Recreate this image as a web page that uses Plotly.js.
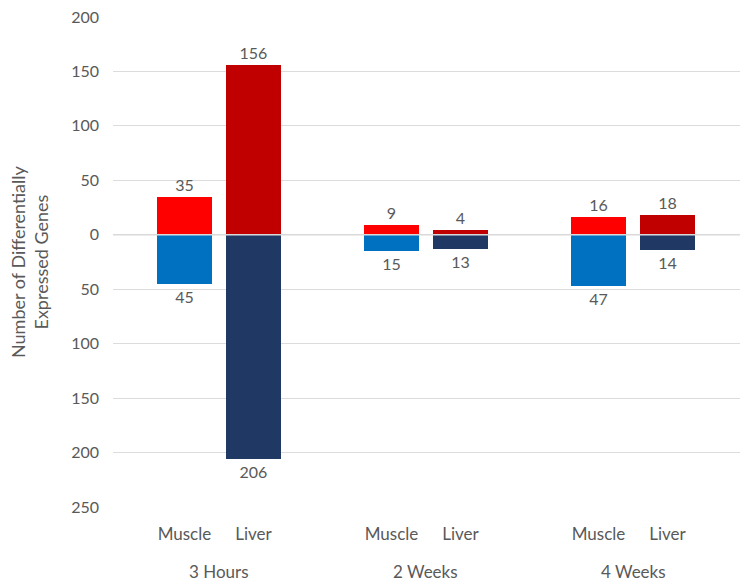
<!DOCTYPE html>
<html>
<head>
<meta charset="utf-8">
<script src="https://cdn.plot.ly/plotly-3.0.1.min.js"></script>
<style>html,body{margin:0;padding:0;background:#fff;}#chart{width:749px;height:588px;}</style>
</head>
<body>
<div id="chart"></div>
<script>
// Data
const groups = ["3 Hours", "2 Weeks", "4 Weeks"];
const tissues = ["Muscle", "Liver"];
const muscleUp = [35, 9, 16];
const muscleDown = [45, 15, 47];
const liverUp = [156, 4, 18];
const liverDown = [206, 13, 14];
const yTickVals = [-250, -200, -150, -100, -50, 0, 50, 100, 150, 200];

// positions (layout): each group holds two adjacent slots, one empty slot between groups
const musclePos = groups.map((g, i) => i * 3);
const liverPos = groups.map((g, i) => i * 3 + 1);
const groupCenters = groups.map((g, i) => i * 3 + 0.5);

const FAM = "Lato, 'Open Sans', sans-serif";
const GREY = "#595959";
const txtFont = {family: FAM, size: 16, color: GREY};

function barTrace(x, vals, sign, color) {
  return {
    type: "bar",
    x: x,
    y: vals.map(v => sign * v),
    text: vals.map(v => String(v)),
    textposition: "outside",
    textfont: txtFont,
    cliponaxis: false,
    marker: {color: color},
    width: 0.8,
    hoverinfo: "skip",
    showlegend: false
  };
}

const traces = [
  barTrace(musclePos, muscleUp, 1, "#FF0000"),
  barTrace(musclePos, muscleDown, -1, "#0070C0"),
  barTrace(liverPos, liverUp, 1, "#C00000"),
  barTrace(liverPos, liverDown, -1, "#203864")
];

const annotations = groups.map((g, i) => ({
  x: groupCenters[i], xref: "x", y: 0, yref: "paper",
  yanchor: "middle", yshift: -64, showarrow: false,
  text: g, font: {family: FAM, size: 17, color: GREY}
}));
annotations.push({
  x: 0, xref: "paper", y: 0.5, yref: "paper", xanchor: "center", yanchor: "middle",
  xshift: -84, showarrow: false, textangle: -90,
  text: "Number of Differentially<br>Expressed Genes",
  font: {family: FAM, size: 18, color: GREY}
});

const layout = {
  width: 749, height: 588,
  margin: {l: 113, r: 9, t: 17, b: 81},
  paper_bgcolor: "#fff", plot_bgcolor: "#fff",
  barmode: "overlay",
  bargap: 0,
  xaxis: {
    range: [-1.035, 8.05],
    tickvals: musclePos.concat(liverPos),
    ticktext: musclePos.map(() => tissues[0]).concat(liverPos.map(() => tissues[1])),
    tickfont: {family: FAM, size: 17, color: GREY},
    ticks: "", showgrid: false, zeroline: false, showline: false,
    ticklabelstandoff: 15,
    fixedrange: true
  },
  yaxis: {
    range: [-250, 200],
    tickvals: yTickVals,
    ticktext: yTickVals.map(v => String(Math.abs(v))),
    tickfont: txtFont,
    showgrid: true, gridcolor: "#dcdcdc", gridwidth: 1,
    zeroline: false, showline: false, ticks: "",
    ticklabelstandoff: 13,
    fixedrange: true
  },
  shapes: [{
    type: "line", xref: "paper", x0: 0, x1: 1, yref: "y", y0: 0, y1: 0,
    line: {color: "#d9d9d9", width: 1.5}, layer: "above"
  }],
  annotations: annotations,
  font: txtFont
};

Plotly.newPlot("chart", traces, layout, {displayModeBar: false, staticPlot: true});
</script>
</body>
</html>
